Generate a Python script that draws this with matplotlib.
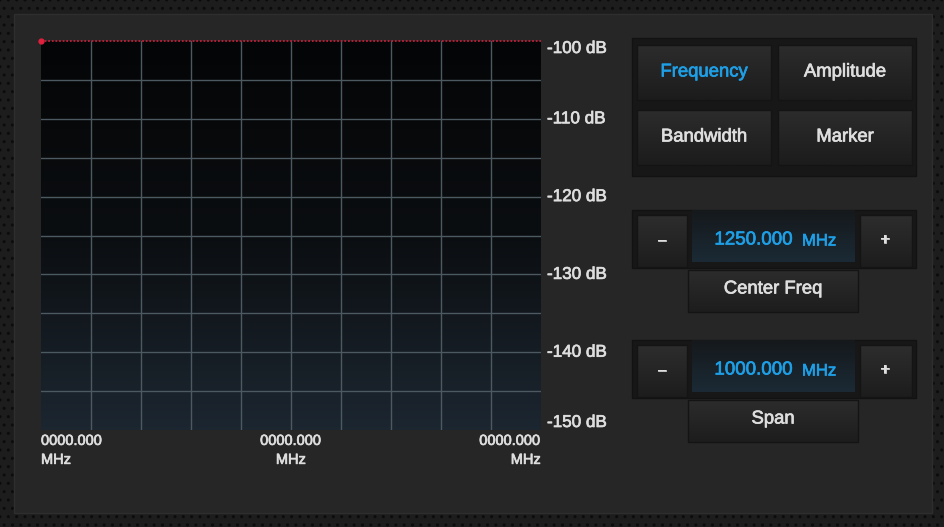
import numpy as np
import matplotlib
matplotlib.use("Agg")
import matplotlib.pyplot as plt
import matplotlib.patheffects as pe
from matplotlib.patches import Rectangle
from matplotlib.colors import LinearSegmentedColormap

plt.rcParams['font.family'] = ['Liberation Sans', 'DejaVu Sans']

# chart data
span_start = 0.0
span_stop = 1000.0
db_top = -100
db_bottom = -150
db_ticks = [-100, -110, -120, -130, -140, -150]
freq_labels = ['0000.000\nMHz', '0000.000\nMHz', '0000.000\nMHz']
trace_freq = [0.0, 1000.0]
trace_db = [-100, -100]
marker_freq = [0.0]
marker_db = [-100]

# panel controls
menu_buttons = ['Frequency', 'Amplitude', 'Bandwidth', 'Marker']
active_button = 'Frequency'
center_freq = '1250.000'
span_value = '1000.000'

W, H = 945, 527
fig = plt.figure(figsize=(W / 100, H / 100), dpi=100)
fig.patch.set_facecolor('#1b1b1b')


def thick(color):
    return [pe.withStroke(linewidth=0.5, foreground=color)]


# pixel overlay for the frame and the control panel
bg = fig.add_axes([0, 0, 1, 1], zorder=0)
bg.set_xlim(0, W)
bg.set_ylim(H, 0)
bg.axis('off')

bg.add_patch(Rectangle((0, 0), W, H, facecolor='#1d1d1d', edgecolor='#0c0c0c',
                       hatch='..', linewidth=0))
bg.add_patch(Rectangle((14, 14), 918, 499, facecolor='#262626', edgecolor='#2e2e2e', lw=1))


def grad_box(x, y, w, h, top, bottom, edge=None, z=1):
    cmap = LinearSegmentedColormap.from_list('g', [top, bottom])
    bg.imshow(np.linspace(0, 1, 50).reshape(-1, 1), cmap=cmap, aspect='auto',
              extent=[x, x + w, y + h, y], zorder=z, interpolation='bilinear')
    if edge:
        bg.add_patch(Rectangle((x, y), w, h, fill=False, edgecolor=edge, lw=1, zorder=z + 0.1))


def label(x, y, s, color='#dedede', size=13.3, ha='center'):
    bg.text(x, y, s, color=color, fontsize=size, ha=ha, va='center', zorder=5,
            path_effects=thick(color))


# menu button group
bg.add_patch(Rectangle((632, 38), 284, 138, facecolor='#171717', edgecolor='#121212', zorder=1))
btn_pos = [(637, 45), (778, 45), (637, 110), (778, 110)]
for name, (bx, by) in zip(menu_buttons, btn_pos):
    grad_box(bx, by, 134, 55, '#2c2c2c', '#1c1c1c', edge='#141414', z=2)
    col = '#1e9fe6' if name == active_button else '#dedede'
    label(bx + 67, by + 27, name, color=col)

# value spinners
for gy, value, caption in [(210, center_freq, 'Center Freq'), (340, span_value, 'Span')]:
    bg.add_patch(Rectangle((632, gy), 284, 58, facecolor='#171717', edgecolor='#121212', zorder=1))
    grad_box(637, gy + 5, 50, 52, '#2d2d2d', '#1d1d1d', edge='#141414', z=2)
    grad_box(860, gy + 5, 52, 52, '#2d2d2d', '#1d1d1d', edge='#141414', z=2)
    grad_box(692, gy, 163, 52, '#15191c', '#1b2a35', z=2)
    label(662, gy + 30, '–', size=11)
    label(885, gy + 30, '+', size=11)
    bg.text(793, gy + 30, value, color='#1e9fe6', fontsize=13.5, ha='right', va='center',
            zorder=5, path_effects=thick('#1e9fe6'))
    bg.text(802, gy + 31, 'MHz', color='#1e9fe6', fontsize=12, ha='left', va='center',
            zorder=5, path_effects=thick('#1e9fe6'))
    grad_box(688, gy + 60, 170, 42, '#2c2c2c', '#1d1d1d', edge='#141414', z=2)
    label(773, gy + 79, caption)

# spectrum plot
ax = fig.add_axes([41 / W, (H - 430) / H, 500 / W, 389 / H], zorder=2)
ax.set_xlim(span_start, span_stop)
ax.set_ylim(db_bottom, db_top)
cmap = LinearSegmentedColormap.from_list('scr', ['#040506', '#0b0e11', '#1c2630'])
ax.imshow(np.linspace(0, 1, 100).reshape(-1, 1), cmap=cmap, aspect='auto',
          extent=[span_start, span_stop, db_bottom, db_top], zorder=0,
          interpolation='bilinear')
for v in np.arange(db_bottom + 5, db_top, 5):
    ax.axhline(v, color='#4d5960', lw=1, zorder=1)
for f in np.arange(span_start + 100, span_stop, 100):
    ax.axvline(f, color='#4d5960', lw=1, zorder=1)
for s in ax.spines.values():
    s.set_visible(False)
ax.set_xticks([])
ax.set_yticks([])

ax.plot(trace_freq, trace_db, color='#c21f3a', lw=1.3, ls=(0, (1, 1)), zorder=3, clip_on=False)
ax.plot(marker_freq, marker_db, 'o', color='#e0203c', ms=3.5, zorder=4, clip_on=False)

# dB labels on the right
for d in db_ticks:
    va = 'center'
    if d == db_top:
        va = 'top'
    elif d == db_bottom:
        va = 'bottom'
    ax.text(span_stop + 12, d, '-%d dB' % abs(d), color='#dedede', fontsize=12.3,
            ha='left', va=va, clip_on=False, path_effects=thick('#dedede'))

# frequency labels below
for i, (lab, ha) in enumerate(zip(freq_labels, ['left', 'center', 'right'])):
    x = span_start + (span_stop - span_start) * i / 2
    ax.text(x, db_bottom - 0.5, lab, color='#dedede', fontsize=10.5, ha=ha, va='top',
            linespacing=1.45, multialignment=ha, clip_on=False,
            path_effects=thick('#dedede'))

fig.savefig('out.png', dpi=100, facecolor=fig.get_facecolor())
